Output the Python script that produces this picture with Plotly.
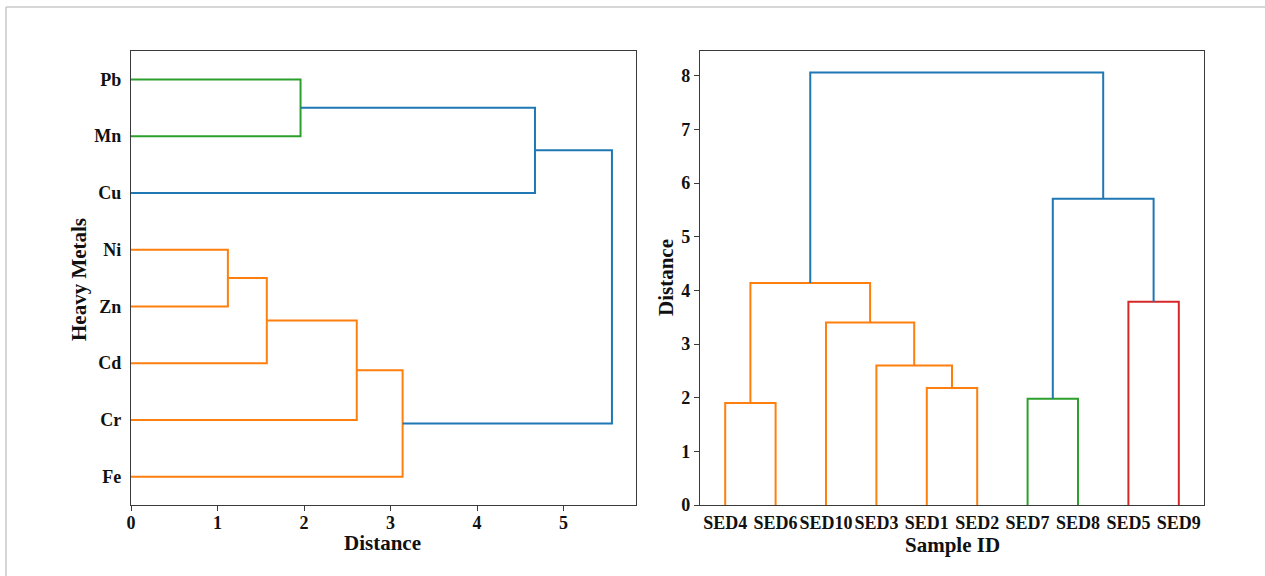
import plotly.graph_objects as go

# ---------------- data ----------------
# Left dendrogram (heavy metals), leaves listed bottom -> top
metal_leaves = ["Fe", "Cr", "Cd", "Zn", "Ni", "Cu", "Mn", "Pb"]
# links: (id, child_a, child_b, distance, colour-group)
metal_links = [
    ("L0", "Ni", "Zn", 1.12, "orange"),
    ("L1", "L0", "Cd", 1.57, "orange"),
    ("L2", "L1", "Cr", 2.61, "orange"),
    ("L3", "L2", "Fe", 3.14, "orange"),
    ("L4", "Pb", "Mn", 1.96, "green"),
    ("L5", "L4", "Cu", 4.67, "blue"),
    ("L6", "L5", "L3", 5.56, "blue"),
]

# Right dendrogram (samples), leaves listed left -> right
sample_leaves = ["SED4", "SED6", "SED10", "SED3", "SED1", "SED2",
                 "SED7", "SED8", "SED5", "SED9"]
sample_links = [
    ("R0", "SED4", "SED6", 1.90, "orange"),
    ("R1", "SED1", "SED2", 2.18, "orange"),
    ("R2", "SED3", "R1", 2.60, "orange"),
    ("R3", "SED10", "R2", 3.40, "orange"),
    ("R4", "R0", "R3", 4.14, "orange"),
    ("R5", "SED7", "SED8", 1.98, "green"),
    ("R6", "SED5", "SED9", 3.79, "red"),
    ("R7", "R5", "R6", 5.71, "blue"),
    ("R8", "R4", "R7", 8.06, "blue"),
]

distance_ticks_left = [0, 1, 2, 3, 4, 5]
distance_ticks_right = [0, 1, 2, 3, 4, 5, 6, 7, 8]

palette = {"blue": "#1f77b4", "orange": "#ff7f0e",
           "green": "#2ca02c", "red": "#d62728"}

FONT = "Liberation Serif"


def dendro_segments(leaves, links):
    pos = {name: (5 + 10 * i, 0.0) for i, name in enumerate(leaves)}
    segs = []
    for lid, a, b, h, col in links:
        pa, ha = pos[a]
        pb, hb = pos[b]
        segs.append(([pa, pa, pb, pb], [ha, h, h, hb], col))
        pos[lid] = ((pa + pb) / 2.0, h)
    return segs


W, H = 1265, 576

fig = go.Figure()

# left: horizontal dendrogram (distance on x)
for p, d, col in dendro_segments(metal_leaves, metal_links):
    fig.add_trace(go.Scatter(x=d, y=p, mode="lines", xaxis="x", yaxis="y",
                             line=dict(color=palette[col], width=2),
                             hoverinfo="skip", showlegend=False))

# right: vertical dendrogram (distance on y)
for p, d, col in dendro_segments(sample_leaves, sample_links):
    fig.add_trace(go.Scatter(x=p, y=d, mode="lines", xaxis="x2", yaxis="y2",
                             line=dict(color=palette[col], width=2),
                             hoverinfo="skip", showlegend=False))

max_left = max(l[3] for l in metal_links)
max_right = max(l[3] for l in sample_links)

tickfont = dict(family=FONT, size=18, color="#111111")
frame = dict(showline=True, mirror=True, linecolor="#3a3a3a", linewidth=1.3,
             showgrid=False, zeroline=False, automargin=False,
             tickfont=tickfont, tickangle=0, tickmode="array")
num_ticks = dict(ticks="outside", ticklen=5, tickcolor="#3a3a3a", tickwidth=1.2)
leaf_ticks = dict(ticks="outside", ticklen=5, tickcolor="rgba(0,0,0,0)", tickwidth=1)


def px_x(v):
    return v / W


def px_y(v):
    return 1 - v / H


def bold(lst):
    return [f"<b>{t}</b>" for t in lst]


fig.update_layout(
    width=W, height=H,
    template="none",
    paper_bgcolor="white", plot_bgcolor="white",
    margin=dict(l=0, r=0, t=0, b=0),
    showlegend=False,
    xaxis=dict(domain=[px_x(131), px_x(636)], anchor="y",
               range=[0, max_left * 1.05],
               tickvals=distance_ticks_left, ticktext=bold(distance_ticks_left),
               ticklabelstandoff=-4,
               **num_ticks, **frame),
    yaxis=dict(domain=[px_y(505), px_y(51)], anchor="x",
               range=[0, 10 * len(metal_leaves)],
               tickvals=[5 + 10 * i for i in range(len(metal_leaves))],
               ticktext=bold(metal_leaves),
               **leaf_ticks, **frame),
    xaxis2=dict(domain=[px_x(700), px_x(1204)], anchor="y2",
                range=[0, 10 * len(sample_leaves)],
                tickvals=[5 + 10 * i for i in range(len(sample_leaves))],
                ticktext=bold(sample_leaves),
                ticklabelstandoff=-4,
                **leaf_ticks, **frame),
    yaxis2=dict(domain=[px_y(505), px_y(51)], anchor="x2",
                range=[0, max_right * 1.05],
                tickvals=distance_ticks_right, ticktext=bold(distance_ticks_right),
                **num_ticks, **frame),
)

title_font = dict(family=FONT, size=21, color="#111111")
fig.add_annotation(text="<b>Distance</b>", xref="paper", yref="paper",
                   x=px_x(383), y=px_y(543), showarrow=False, font=title_font,
                   xanchor="center", yanchor="middle")
fig.add_annotation(text="<b>Sample ID</b>", xref="paper", yref="paper",
                   x=px_x(952), y=px_y(545), showarrow=False, font=title_font,
                   xanchor="center", yanchor="middle")
fig.add_annotation(text="<b>Heavy Metals</b>", xref="paper", yref="paper",
                   x=px_x(79), y=px_y(280), showarrow=False, font=title_font,
                   textangle=-90, xanchor="center", yanchor="middle")
fig.add_annotation(text="<b>Distance</b>", xref="paper", yref="paper",
                   x=px_x(666), y=px_y(278), showarrow=False, font=title_font,
                   textangle=-90, xanchor="center", yanchor="middle")

# light outer frame lines (top and left edges of the picture)
fig.add_shape(type="line", xref="paper", yref="paper",
              x0=px_x(6), x1=1.0, y0=px_y(7), y1=px_y(7),
              line=dict(color="#c8c8c8", width=1.5))
fig.add_shape(type="line", xref="paper", yref="paper",
              x0=px_x(6), x1=px_x(6), y0=px_y(7), y1=0.0,
              line=dict(color="#c8c8c8", width=1.5))

fig.write_html("out.html")
